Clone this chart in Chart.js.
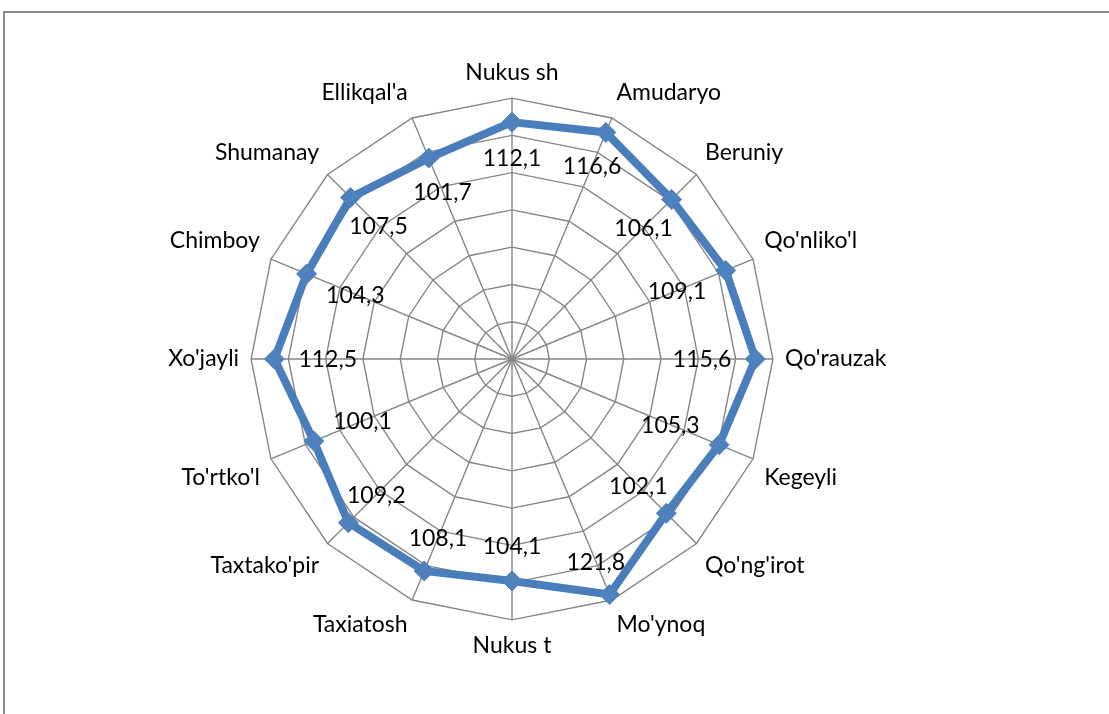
<!DOCTYPE html>
<html>
<head>
<meta charset="utf-8">
<script src="https://cdn.jsdelivr.net/npm/chart.js@4.4.1/dist/chart.umd.min.js"></script>
<style>
    body { margin: 0; background: #fff; overflow: hidden; }
    .frame {
        position: absolute;
        left: 3px;
        top: 11px;
        width: 1300px;
        height: 900px;
        border: 2px solid #8a8a8a;
    }
    #radarChart { position: absolute; left: 0; top: 0; }
</style>
</head>
<body>
<div class="frame"></div>
<canvas id="radarChart" width="1109" height="714"></canvas>
<script>
const regioes = ["Nukus sh", "Amudaryo", "Beruniy", "Qo'nliko'l", "Qo'rauzak", "Kegeyli", "Qo'ng'irot", "Mo'ynoq",
    "Nukus t", "Taxiatosh", "Taxtako'pir", "To'rtko'l", "Xo'jayli", "Chimboy", "Shumanay", "Ellikqal'a"];
const valores = [112.1, 116.6, 106.1, 109.1, 115.6, 105.3, 102.1, 121.8, 104.1, 108.1, 109.2, 100.1, 112.5, 104.3, 107.5, 101.7];

const eixoMin = -15;
const eixoMax = 125;
const eixoPasso = 20;

const fonte = "Lato";
const cinza = "#868686";

// rótulos de valor, puxados para dentro do ponto (como no Excel)
const rotulosPlugin = {
    id: "rotulos",
    afterDatasetsDraw(chart) {
        const ctx = chart.ctx;
        const scale = chart.scales.r;
        const meta = chart.getDatasetMeta(0);
        ctx.save();
        ctx.font = "23px " + fonte;
        ctx.fillStyle = "#000";
        ctx.textAlign = "center";
        ctx.textBaseline = "middle";
        meta.data.forEach((pt, i) => {
            const texto = valores[i].toFixed(1).replace(".", ",");
            const dx = scale.xCenter - pt.x;
            const dy = scale.yCenter - pt.y;
            const len = Math.sqrt(dx * dx + dy * dy);
            const ux = dx / len;
            const uy = dy / len;
            const hw = ctx.measureText(texto).width / 2;
            const hh = 11;
            const t = 24 + Math.min(Math.abs(ux) > 0.01 ? hw / Math.abs(ux) : 999, Math.abs(uy) > 0.01 ? hh / Math.abs(uy) : 999);
            ctx.fillText(texto, pt.x + ux * t, pt.y + uy * t + 1);
        });
        ctx.restore();
    }
};

const ctx = document.getElementById("radarChart").getContext("2d");

new Chart(ctx, {
    type: "radar",
    data: {
        labels: regioes,
        datasets: [{
            data: valores,
            fill: false,
            borderColor: "#4a7ebb",
            borderWidth: 8,
            backgroundColor: "#4f81bd",
            pointStyle: "rectRot",
            pointRadius: 10,
            pointBorderWidth: 1,
            pointBorderColor: "#4f81bd",
            pointBackgroundColor: "#4f81bd",
            tension: 0
        }]
    },
    options: {
        responsive: false,
        animation: false,
        layout: {
            padding: { top: 59.5, bottom: 53.5, left: 0, right: 85 }
        },
        plugins: {
            legend: { display: false },
            tooltip: { enabled: false }
        },
        scales: {
            r: {
                min: eixoMin,
                max: eixoMax,
                ticks: { display: false, stepSize: eixoPasso },
                grid: { color: cinza, lineWidth: 1.4 },
                angleLines: { color: cinza, lineWidth: 1.4 },
                pointLabels: {
                    color: "#000",
                    padding: 12,
                    font: { family: fonte, size: 23 }
                }
            }
        }
    },
    plugins: [rotulosPlugin]
});
</script>
</body>
</html>
